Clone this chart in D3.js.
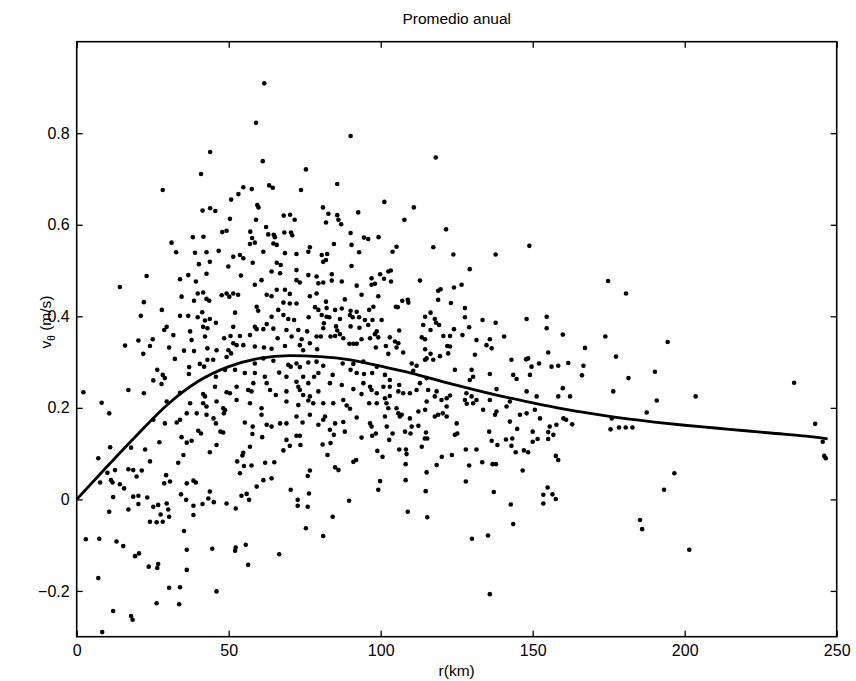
<!DOCTYPE html>
<html>
<head>
<meta charset="utf-8">
<script src="https://cdn.jsdelivr.net/npm/d3@7"></script>
<style>
  body { margin: 0; background: #fff; }
  svg text { font-family: "Liberation Sans", Arial, sans-serif; fill: #000; }
</style>
</head>
<body>
<div id="chart"></div>
<script>
// fitted mean profile (r in km, v in m/s)
var curveR = [0, 10, 20, 30, 40, 50, 60, 70, 80, 90, 100, 110, 120, 130, 140, 150, 160, 170, 180, 190, 200, 210, 220, 230, 240, 247];
var curveV = [0, 0.072, 0.142, 0.208, 0.258, 0.29, 0.308, 0.314, 0.312, 0.305, 0.291, 0.276, 0.258, 0.241, 0.225, 0.211, 0.198, 0.187, 0.177, 0.169, 0.162, 0.156, 0.15, 0.144, 0.138, 0.132];

var xTicks = [0, 50, 100, 150, 200, 250];
var yTicks = [-0.2, 0, 0.2, 0.4, 0.6, 0.8];

// observations [r, v]
var obs = [
  [61.7,0.909],[59.0,0.823],[43.9,0.759],[61.2,0.739],[40.9,0.711],[75.4,0.721],[28.3,0.676],[54.8,0.682],
  [57.6,0.678],[63.3,0.686],[64.5,0.681],[73.8,0.676],[53.2,0.667],[50.8,0.655],[59.4,0.643],[59.8,0.638],
  [41.4,0.631],[43.9,0.636],[45.6,0.630],[50.4,0.613],[59.0,0.611],[68.1,0.620],[70.2,0.622],[71.7,0.611],
  [62.3,0.595],[47.9,0.584],[49.3,0.587],[57.1,0.585],[38.2,0.573],[41.7,0.574],[57.7,0.571],[63.0,0.579],
  [64.8,0.578],[65.2,0.573],[68.3,0.583],[70.5,0.583],[70.9,0.577],
  [90.1,0.794],[118.1,0.747],[85.7,0.689],[101.2,0.650],[81.0,0.638],[82.8,0.624],[85.7,0.621],[86.1,0.611],
  [92.6,0.627],[110.9,0.638],[82.0,0.605],[87.0,0.601],[107.8,0.611],[90.1,0.582],[121.5,0.590],[94.5,0.572],
  [95.9,0.569],[99.3,0.573],
  [31.2,0.561],[57.0,0.558],[58.6,0.561],[64.7,0.559],[65.8,0.556],[32.7,0.540],[38.9,0.539],[42.7,0.540],
  [46.7,0.543],[51.5,0.530],[53.7,0.534],[54.8,0.527],[61.4,0.541],[68.5,0.538],[72.3,0.536],[76.2,0.541],
  [76.7,0.551],[40.2,0.514],[43.8,0.519],[49.9,0.509],[54.0,0.489],[57.9,0.517],[65.8,0.517],[67.1,0.512],
  [36.7,0.490],[42.7,0.493],[64.1,0.498],[66.9,0.494],[72.3,0.501],[76.2,0.490],[78.9,0.487],[23.0,0.488],
  [34.0,0.481],[39.2,0.476],[14.2,0.464],[60.8,0.479],[72.3,0.479],[73.4,0.474],[79.5,0.472],[34.5,0.443],
  [39.8,0.450],[41.6,0.452],[42.7,0.438],[43.6,0.434],[38.6,0.434],[47.7,0.446],[49.3,0.450],[50.2,0.443],
  [51.5,0.450],[53.1,0.447],[58.6,0.469],[62.5,0.447],[64.1,0.444],[65.8,0.458],[68.5,0.458],[70.1,0.449],
  [68.0,0.430],[70.1,0.428],[72.3,0.428],[76.7,0.444],[78.9,0.450],[22.1,0.431],[28.0,0.414],[21.1,0.401],
  [34.0,0.401],[36.7,0.401],[39.8,0.398],[41.3,0.409],[42.2,0.391],[43.8,0.394],[45.8,0.386],[59.2,0.421],
  [59.7,0.412],[64.1,0.399],[66.3,0.414],[68.0,0.403],[69.6,0.394],[71.5,0.392],[76.3,0.398],[78.4,0.420],
  [79.5,0.414],[52.1,0.408],[51.5,0.377],[29.6,0.377],[28.8,0.370],[31.8,0.359],[37.3,0.367],[41.6,0.377],
  [43.0,0.374],[42.2,0.356],[37.8,0.348],[48.5,0.352],[50.6,0.357],[53.7,0.357],[57.0,0.359],[58.6,0.377],
  [59.2,0.372],[61.4,0.372],[62.5,0.383],[64.7,0.373],[66.1,0.352],[69.0,0.370],[70.7,0.356],[72.9,0.370],
  [74.0,0.350],[75.8,0.367],[78.9,0.356],[15.9,0.336],[20.3,0.347],[24.1,0.335],[25.0,0.350],[30.4,0.332],
  [35.3,0.325],[38.6,0.324],[43.0,0.330],[46.0,0.326],[49.9,0.326],[50.8,0.319],[51.5,0.341],[52.6,0.337],
  [54.8,0.337],[58.6,0.334],[61.6,0.332],[64.1,0.329],[68.5,0.335],[73.4,0.337],[74.5,0.326],[76.7,0.341],
  [79.1,0.328],[21.9,0.318],[32.3,0.307],[37.0,0.289],[40.5,0.296],[43.0,0.305],[44.9,0.305],[49.3,0.311],
  [58.6,0.297],[61.4,0.308],[64.7,0.303],[69.6,0.294],[70.4,0.290],[72.3,0.297],[73.4,0.289],[76.2,0.299],
  [78.9,0.301],[26.5,0.283],[28.3,0.272],[29.0,0.265],[25.2,0.260],[27.9,0.252],[36.9,0.274],[41.9,0.290],
  [45.8,0.268],[48.8,0.283],[52.1,0.283],[55.3,0.276],[58.6,0.276],[58.1,0.254],[61.9,0.268],[62.5,0.254],
  [66.6,0.277],[69.0,0.268],[72.3,0.257],[74.5,0.268],[76.2,0.254],[78.1,0.268],[79.5,0.276],[2.2,0.234],
  [17.0,0.239],[22.1,0.232],[34.0,0.233],[41.6,0.230],[42.2,0.225],[45.5,0.246],[49.3,0.234],[50.4,0.232],
  [52.6,0.246],[56.4,0.239],[57.5,0.236],[63.6,0.239],[65.5,0.228],[69.0,0.236],[72.9,0.246],[73.4,0.239],
  [74.5,0.228],[76.7,0.225],[79.5,0.236],[29.6,0.214],[37.3,0.210],[41.6,0.210],[42.7,0.203],[46.0,0.214],
  [48.2,0.199],[52.6,0.217],[57.0,0.210],[69.0,0.214],[72.9,0.206],[76.2,0.216],[77.8,0.210],[8.2,0.211],
  [10.7,0.188],[25.2,0.174],[29.0,0.166],[32.9,0.168],[34.0,0.174],[36.2,0.188],[39.5,0.188],[42.7,0.185],
  [45.0,0.177],[45.8,0.166],[48.4,0.188],[48.8,0.195],[55.3,0.168],[57.9,0.159],[60.8,0.199],[60.8,0.185],
  [62.5,0.163],[64.1,0.159],[66.9,0.166],[69.0,0.166],[72.3,0.181],[74.3,0.168],[76.7,0.185],[79.5,0.163],
  [7.1,0.090],[11.0,0.114],[17.9,0.113],[22.5,0.109],[27.2,0.125],[34.5,0.136],[36.2,0.124],[37.8,0.128],
  [40.0,0.150],[40.9,0.144],[47.3,0.148],[48.2,0.146],[46.0,0.119],[43.8,0.103],[33.4,0.080],[35.1,0.097],
  [24.1,0.083],[17.0,0.066],[18.6,0.064],[21.4,0.063],[19.7,0.050],[12.6,0.064],[10.1,0.058],[7.7,0.037],
  [11.3,0.042],[11.8,0.037],[14.2,0.033],[15.6,0.024],[12.0,0.005],[18.6,0.006],[20.3,0.008],[23.2,0.004],
  [10.7,-0.027],[17.0,-0.022],[20.3,-0.010],[25.2,-0.016],[26.8,-0.012],[27.6,-0.033],[30.4,-0.038],[29.6,-0.009],
  [30.1,-0.022],[26.3,-0.050],[24.1,-0.049],[28.3,-0.049],[29.4,0.053],[30.7,0.039],[28.8,0.035],[36.2,0.035],
  [38.4,0.041],[39.2,0.037],[34.3,0.011],[36.0,-0.001],[38.4,-0.014],[38.4,-0.034],[41.4,-0.010],[43.3,0.002],
  [43.8,0.017],[45.1,-0.006],[49.3,-0.009],[52.3,-0.020],[54.2,0.008],[55.9,0.012],[56.7,-0.001],[55.0,0.073],
  [57.5,0.074],[52.8,0.083],[53.7,0.057],[54.8,0.102],[54.5,0.096],[57.0,0.115],[57.8,0.143],[61.0,0.136],
  [69.0,0.130],[68.0,0.107],[70.1,0.117],[72.3,0.139],[73.4,0.139],[73.6,0.119],[62.0,0.080],[65.0,0.081],
  [61.4,0.042],[64.1,0.046],[59.2,0.028],[70.4,0.021],[72.7,-0.001],[72.7,-0.014],[76.0,-0.016],[76.4,0.013],
  [76.0,0.051],[76.7,0.063],[75.4,-0.063],[35.3,-0.069],[3.0,-0.087],[7.4,-0.086],[13.1,-0.092],[15.3,-0.102],
  [19.2,-0.124],[20.5,-0.118],[23.7,-0.147],[26.8,-0.141],[26.5,-0.150],[36.2,-0.110],[36.2,-0.154],[44.6,-0.108],
  [52.3,-0.105],[52.1,-0.112],[55.6,-0.099],[56.4,-0.143],[66.6,-0.120],[7.1,-0.172],[30.4,-0.193],[34.0,-0.192],
  [46.0,-0.201],[26.3,-0.227],[33.7,-0.229],[12.0,-0.244],[17.9,-0.255],[18.4,-0.263],[8.4,-0.290],
  [84.6,0.558],[90.4,0.556],[92.9,0.540],[103.9,0.541],[105.2,0.552],[117.3,0.551],[123.9,0.535],[137.8,0.535],
  [148.9,0.554],[80.6,0.534],[82.4,0.536],[81.1,0.519],[82.0,0.523],[90.4,0.510],[129.3,0.503],[83.9,0.492],
  [81.1,0.474],[83.9,0.478],[87.2,0.476],[92.1,0.467],[97.0,0.483],[97.0,0.469],[98.1,0.471],[99.8,0.492],
  [101.1,0.482],[102.5,0.498],[103.3,0.500],[103.4,0.476],[112.9,0.478],[118.9,0.456],[119.7,0.459],[124.1,0.463],
  [126.6,0.469],[93.7,0.447],[99.2,0.444],[88.2,0.437],[118.9,0.436],[123.1,0.429],[107.1,0.434],[108.9,0.436],
  [109.1,0.430],[105.0,0.421],[105.6,0.420],[82.0,0.432],[82.2,0.418],[85.0,0.414],[87.2,0.417],[90.1,0.412],
  [92.1,0.410],[96.2,0.414],[97.6,0.421],[80.6,0.403],[82.2,0.399],[83.1,0.398],[86.6,0.394],[89.9,0.403],
  [90.8,0.398],[92.9,0.398],[94.8,0.392],[97.3,0.392],[100.3,0.392],[114.6,0.399],[116.4,0.408],[117.8,0.394],
  [118.2,0.386],[127.7,0.418],[127.7,0.398],[133.5,0.392],[137.8,0.386],[148.0,0.394],[154.6,0.399],[154.6,0.374],
  [81.3,0.385],[81.1,0.374],[85.3,0.378],[90.1,0.378],[93.0,0.375],[95.9,0.381],[98.7,0.367],[98.1,0.361],
  [106.1,0.369],[114.0,0.381],[116.4,0.370],[119.2,0.381],[124.1,0.372],[129.1,0.376],[126.9,0.359],[120.6,0.357],
  [122.8,0.357],[113.5,0.354],[114.6,0.350],[103.0,0.354],[104.7,0.345],[105.8,0.341],[80.3,0.356],[83.5,0.356],
  [85.0,0.357],[85.7,0.369],[86.6,0.361],[87.7,0.352],[91.0,0.340],[89.7,0.340],[92.1,0.340],[93.7,0.350],
  [96.5,0.352],[99.2,0.354],[101.7,0.335],[98.4,0.332],[102.5,0.318],[105.2,0.332],[107.4,0.321],[114.6,0.328],
  [116.4,0.318],[119.5,0.313],[121.9,0.335],[122.8,0.334],[122.2,0.319],[117.3,0.305],[114.6,0.305],[115.1,0.308],
  [131.5,0.348],[134.8,0.337],[135.9,0.350],[136.5,0.330],[140.6,0.356],[131.0,0.316],[143.0,0.305],[147.8,0.306],
  [148.5,0.308],[155.1,0.321],[149.6,0.290],[152.1,0.297],[156.2,0.290],[158.4,0.292],[81.1,0.292],[87.5,0.297],
  [91.0,0.296],[94.3,0.301],[98.7,0.290],[90.1,0.283],[92.1,0.276],[94.5,0.274],[97.2,0.276],[101.4,0.272],
  [103.0,0.261],[106.1,0.250],[110.2,0.297],[111.8,0.292],[110.7,0.281],[112.9,0.254],[115.1,0.265],[124.4,0.283],
  [129.9,0.283],[130.4,0.268],[129.3,0.261],[135.9,0.274],[143.6,0.272],[144.7,0.263],[149.1,0.272],[83.3,0.254],
  [84.2,0.272],[87.2,0.250],[91.0,0.241],[94.3,0.254],[96.5,0.246],[97.0,0.239],[98.7,0.232],[100.9,0.246],
  [103.0,0.246],[105.8,0.236],[103.0,0.226],[107.4,0.232],[109.6,0.232],[111.8,0.239],[115.6,0.239],[118.4,0.236],
  [117.8,0.225],[120.0,0.217],[121.7,0.221],[122.8,0.227],[128.2,0.232],[127.7,0.217],[129.9,0.225],[130.4,0.210],
  [135.9,0.217],[138.1,0.241],[148.0,0.236],[151.3,0.225],[158.4,0.225],[81.1,0.210],[84.4,0.210],[87.7,0.217],
  [88.8,0.205],[93.7,0.230],[96.2,0.210],[98.7,0.210],[101.4,0.221],[101.9,0.210],[102.5,0.199],[105.8,0.188],
  [106.9,0.185],[105.2,0.199],[109.6,0.177],[112.4,0.192],[114.6,0.196],[115.1,0.214],[117.8,0.181],[118.9,0.185],
  [120.4,0.188],[121.7,0.181],[121.7,0.203],[125.0,0.166],[128.3,0.209],[131.5,0.217],[133.7,0.196],[137.6,0.185],
  [138.1,0.192],[141.4,0.203],[142.5,0.214],[145.8,0.185],[148.0,0.188],[150.7,0.196],[142.5,0.170],[152.4,0.177],
  [157.8,0.163],[155.6,0.159],[81.7,0.181],[81.1,0.174],[85.0,0.166],[87.7,0.169],[89.9,0.198],[92.1,0.179],
  [96.5,0.166],[97.0,0.159],[101.4,0.181],[102.0,0.159],[106.3,0.181],[110.2,0.159],[112.4,0.161],
  [83.3,0.152],[84.6,0.141],[83.5,0.123],[80.9,0.120],[82.5,0.097],[85.0,0.070],[86.1,0.064],[91.0,0.082],
  [91.9,0.086],[88.2,0.148],[97.2,0.139],[98.4,0.144],[93.7,0.135],[98.9,0.106],[100.6,0.093],[102.8,0.130],
  [103.9,0.144],[106.1,0.109],[108.3,0.109],[108.5,0.099],[108.0,0.148],[109.8,0.144],[114.9,0.146],[114.5,0.133],
  [115.3,0.133],[113.5,0.115],[115.1,0.059],[118.4,0.075],[120.1,0.093],[123.4,0.097],[124.4,0.141],[125.2,0.144],
  [128.0,0.109],[129.1,0.074],[131.5,0.109],[133.4,0.081],[135.7,0.148],[136.5,0.128],[138.4,0.119],[136.8,0.077],
  [137.9,0.077],[141.2,0.131],[143.3,0.133],[143.0,0.117],[144.4,0.103],[144.9,0.154],[147.1,0.107],[148.5,0.103],
  [146.7,0.063],[150.0,0.148],[150.0,0.126],[151.6,0.132],[155.1,0.147],[156.8,0.141],[155.1,0.132],[157.6,0.095],
  [158.4,0.086],[99.8,0.040],[99.2,0.021],[89.6,-0.003],[84.2,-0.038],[81.1,-0.080],[108.2,0.077],[108.2,0.042],
  [114.8,0.018],[108.9,-0.027],[115.3,-0.039],[128.0,0.039],[137.2,0.016],[142.8,-0.011],[143.6,-0.054],[130.0,-0.086],
  [135.3,-0.079],[153.5,0.010],[154.9,0.026],[156.5,0.011],[157.6,0.001],[153.5,-0.009],[135.9,-0.207],
  [174.8,0.477],[180.7,0.450],[159.9,0.360],[173.9,0.356],[194.4,0.344],[167.2,0.331],[177.4,0.312],[161.7,0.298],
  [166.7,0.292],[166.2,0.271],[190.2,0.279],[181.5,0.265],[159.9,0.243],[162.3,0.225],[176.5,0.236],[190.8,0.216],
  [203.6,0.225],[187.5,0.190],[160.1,0.177],[161.0,0.174],[163.0,0.164],[176.0,0.177],[178.4,0.157],[180.6,0.157],
  [182.8,0.157],[175.6,0.153],
  [242.9,0.165],[245.4,0.126],[246.4,0.090],[245.9,0.095],[196.6,0.057],[193.2,0.021],[201.5,-0.110],
  [185.3,-0.045],[186.0,-0.065],[236.0,0.255]
];

var W = 856, H = 681;
var margin = { top: 41.7, right: 19.3, bottom: 44.3, left: 76.7 };
var width = W - margin.left - margin.right;
var height = H - margin.top - margin.bottom;

var svg = d3.select("#chart").append("svg")
  .attr("width", W)
  .attr("height", H);

var g = svg.append("g")
  .attr("transform", `translate(${margin.left},${margin.top})`);

var x = d3.scaleLinear().domain([0, 250]).range([0, width]);
var y = d3.scaleLinear().domain([-0.3, 1.0]).range([height, 0]);

// matlab style: ticks inside, box on
var tickLen = 6;
g.append("g")
  .attr("transform", `translate(0,${height})`)
  .call(d3.axisBottom(x).tickValues(xTicks).tickSizeInner(-tickLen).tickSizeOuter(0).tickPadding(8))
  .call((a) => a.select(".domain").remove());
g.append("g")
  .call(d3.axisTop(x).tickValues(xTicks).tickSizeInner(-tickLen).tickSizeOuter(0).tickFormat(""))
  .call((a) => a.select(".domain").remove());
g.append("g")
  .call(d3.axisLeft(y).tickValues(yTicks).tickSizeInner(-tickLen).tickSizeOuter(0).tickPadding(7)
    .tickFormat((d) => (d === 0 ? "0" : d3.format(".1f")(d))))
  .call((a) => a.select(".domain").remove());
g.append("g")
  .attr("transform", `translate(${width},0)`)
  .call(d3.axisRight(y).tickValues(yTicks).tickSizeInner(-tickLen).tickSizeOuter(0).tickFormat(""))
  .call((a) => a.select(".domain").remove());

g.selectAll(".tick line").attr("stroke", "#000").attr("stroke-width", 1.3);
g.selectAll(".tick text").attr("font-size", 16).attr("font-family", "Liberation Sans, Arial, sans-serif");

g.append("rect")
  .attr("width", width)
  .attr("height", height)
  .attr("fill", "none")
  .attr("stroke", "#000")
  .attr("stroke-width", 1.6);

// scatter
g.append("g")
  .selectAll("circle")
  .data(obs)
  .enter()
  .append("circle")
  .attr("cx", (d) => x(d[0]))
  .attr("cy", (d) => y(d[1]))
  .attr("r", 2.3)
  .attr("fill", "#000");

// mean curve
var line = d3.line()
  .x((d, i) => x(curveR[i]))
  .y((d) => y(d))
  .curve(d3.curveMonotoneX);
g.append("path")
  .attr("d", line(curveV))
  .attr("fill", "none")
  .attr("stroke", "#000")
  .attr("stroke-width", 2.8);

// labels
svg.append("text")
  .attr("x", margin.left + width / 2)
  .attr("y", 24)
  .attr("text-anchor", "middle")
  .attr("font-size", 15.5)
  .text("Promedio anual");

svg.append("text")
  .attr("x", margin.left + width / 2)
  .attr("y", 676)
  .attr("text-anchor", "middle")
  .attr("font-size", 15.5)
  .text("r(km)");

var yl = svg.append("text")
  .attr("transform", `translate(51,${322}) rotate(-90)`)
  .attr("text-anchor", "middle")
  .attr("font-size", 15.5);
yl.append("tspan").text("v");
yl.append("tspan").attr("font-size", 10).attr("dy", 4).text("θ");
yl.append("tspan").attr("dy", -4).text(" (m/s)");
</script>
</body>
</html>
